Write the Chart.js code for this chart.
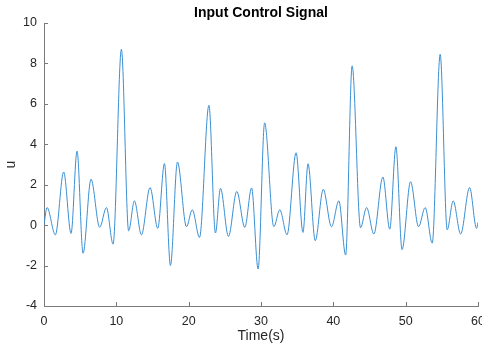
<!DOCTYPE html>
<html>
<head>
<meta charset="utf-8">
<script src="https://cdn.jsdelivr.net/npm/chart.js@4"></script>
<style>
  body { margin: 0; background: #fff; }
  #wrap { width: 482px; height: 345px; }
</style>
</head>
<body>
<div id="wrap"><canvas id="signalChart" width="482" height="345"></canvas></div>
<script>
// local extrema of u(t)
const times = [0, 0.42, 1.57, 2.72, 3.74, 4.57, 5.4, 6.5, 7.7, 8.63, 9.55, 10.7, 11.7, 12.5, 13.47,
    14.66, 15.73, 16.65, 17.48, 18.45, 19.7, 20.5, 21.5, 22.8, 23.7, 24.4, 25.5, 26.65, 27.76, 28.7,
    29.6, 30.5, 31.77, 32.6, 33.6, 34.85, 35.8, 36.5, 37.5, 38.6, 39.75, 40.76, 41.7, 42.6, 43.76,
    44.6, 45.6, 46.85, 47.8, 48.65, 49.5, 50.68, 51.78, 52.7, 53.67, 54.77, 55.74, 56.57, 57.6,
    58.84, 59.8, 60];
const uValues = [0.02, 0.87, -0.48, 2.63, -0.41, 3.66, -1.39, 2.27, -0.11, 0.87, -0.94, 8.7, -0.28, 1.2, -0.48,
    1.86, -0.16, 3.05, -2.0, 3.12, -0.08, 0.76, -0.61, 5.93, -0.39, 1.82, -0.56, 1.67, -0.11, 1.84,
    -2.17, 5.06, -0.08, 0.76, -0.48, 3.58, -0.36, 3.04, -0.77, 1.77, -0.08, 1.2, -1.48, 7.88, -0.13,
    0.87, -0.44, 2.38, -0.2, 3.88, -1.21, 2.15, -0.08, 0.87, -0.89, 8.45, -0.23, 1.2, -0.44,
    1.86, -0.16, 0.13];
const xTicks = [0, 10, 20, 30, 40, 50, 60];
const yTicks = [-4, -2, 0, 2, 4, 6, 8, 10];
const chartTitle = 'Input Control Signal';

const axisColor = '#7a7a7a';
const textColor = '#262626';
const fontFamily = 'Liberation Sans, Arial, sans-serif';

// MATLAB style: ticks pointing into the plot, title centred over the axes
const matlabLook = {
    id: 'matlabLook',
    afterDatasetsDraw(chart) {
        const ctx = chart.ctx;
        const xs = chart.scales.x, ys = chart.scales.y;
        const a = chart.chartArea;
        ctx.save();
        ctx.strokeStyle = axisColor;
        ctx.lineWidth = 1;
        ctx.beginPath();
        xTicks.forEach(t => {
            let px = Math.round(xs.getPixelForValue(t)) + 0.5;
            ctx.moveTo(px, a.bottom);
            ctx.lineTo(px, a.bottom - 4);
        });
        yTicks.forEach(t => {
            let py = Math.round(ys.getPixelForValue(t)) + 0.5;
            ctx.moveTo(a.left, py);
            ctx.lineTo(a.left + 4, py);
        });
        ctx.stroke();

        ctx.fillStyle = '#000';
        ctx.font = 'bold 14px ' + fontFamily;
        ctx.textAlign = 'center';
        ctx.textBaseline = 'middle';
        ctx.fillText(chartTitle, (a.left + a.right) / 2, 13);
        ctx.restore();
    }
};

let ctx = document.getElementById('signalChart').getContext('2d');
var signalChart = new Chart(ctx, {
    type: 'line',
    data: {
        datasets: [{
            label: 'u',
            data: times.map((t, i) => ({ x: t, y: uValues[i] })),
            borderColor: '#3a8fd3',
            borderWidth: 1,
            pointRadius: 0,
            fill: false,
            cubicInterpolationMode: 'monotone'
        }]
    },
    options: {
        responsive: false,
        animation: false,
        layout: { padding: { left: 0, right: 4, top: 23, bottom: 0 } },
        plugins: {
            legend: { display: false },
            tooltip: { enabled: false },
            title: { display: false }
        },
        scales: {
            x: {
                type: 'linear',
                min: 0,
                max: 60,
                afterBuildTicks: s => { s.ticks = xTicks.map(v => ({ value: v })); },
                afterFit: s => { s.height = 39; s.paddingLeft = 0; s.paddingRight = 0; },
                grid: { display: true, drawOnChartArea: false, drawTicks: false },
                border: { display: true, color: axisColor, width: 1 },
                ticks: {
                    color: textColor,
                    padding: 8,
                    maxRotation: 0,
                    font: { family: fontFamily, size: 12.5 }
                },
                title: {
                    display: true,
                    text: 'Time(s)',
                    color: textColor,
                    font: { family: fontFamily, size: 14 },
                    padding: { top: 0, bottom: 0 }
                }
            },
            y: {
                min: -4,
                max: 10,
                afterBuildTicks: s => { s.ticks = yTicks.map(v => ({ value: v })); },
                afterFit: s => { s.width = 44; s.paddingTop = 0; s.paddingBottom = 0; },
                grid: { display: true, drawOnChartArea: false, drawTicks: false },
                border: { display: true, color: axisColor, width: 1 },
                ticks: {
                    color: textColor,
                    padding: 7,
                    font: { family: fontFamily, size: 12.5 }
                },
                title: {
                    display: true,
                    text: 'u',
                    color: textColor,
                    font: { family: fontFamily, size: 14 },
                    padding: { top: 3, bottom: 0 }
                }
            }
        }
    },
    plugins: [matlabLook]
});
</script>
</body>
</html>
